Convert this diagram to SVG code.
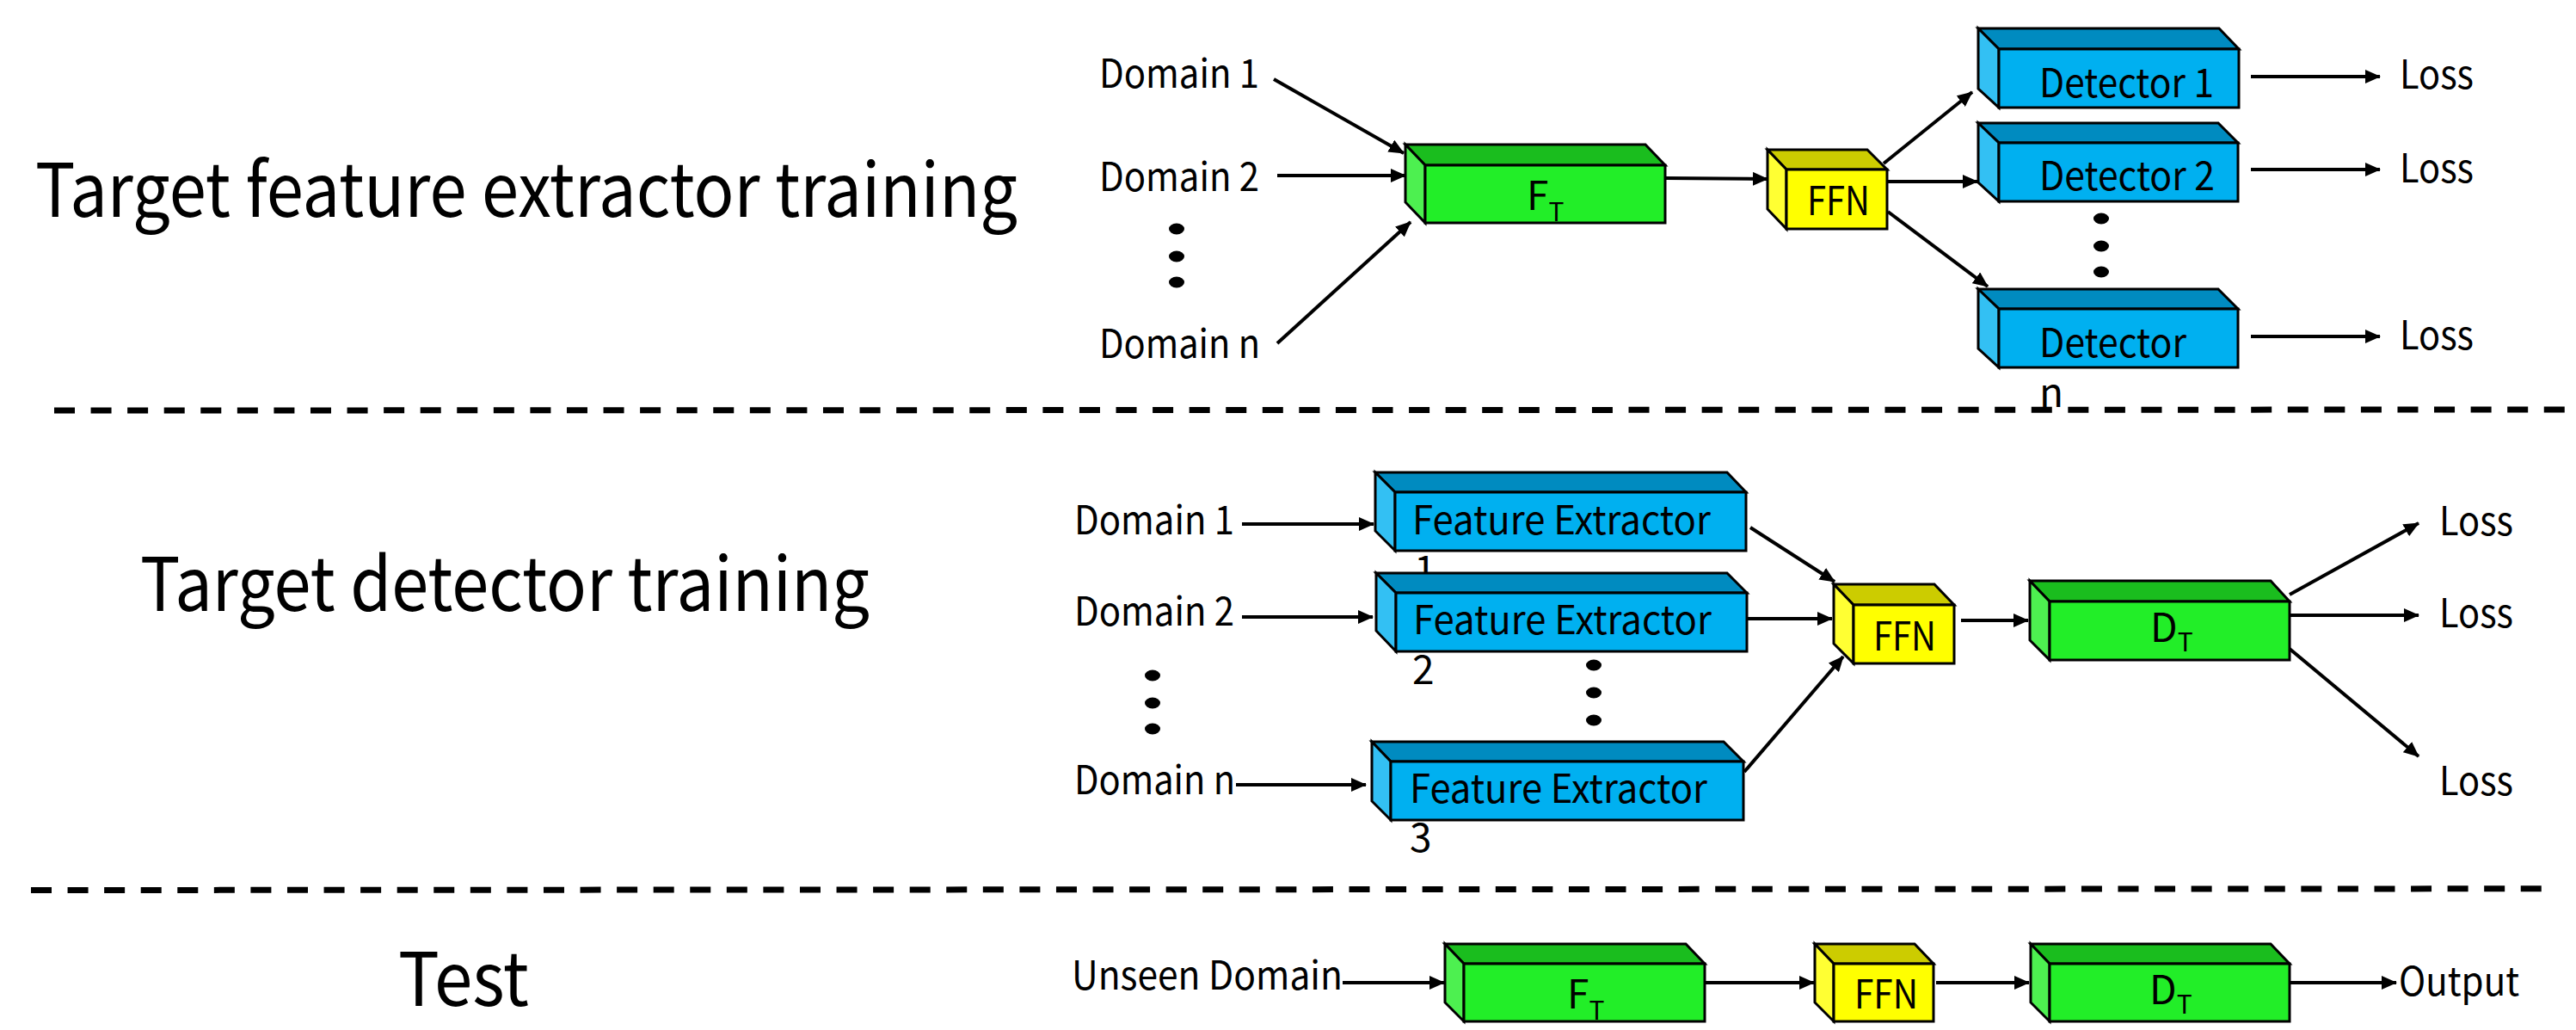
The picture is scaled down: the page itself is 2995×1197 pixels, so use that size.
<svg xmlns="http://www.w3.org/2000/svg" width="2995" height="1197" viewBox="0 0 2995 1197">
<defs>
<style>
text{font-family:"Noto Sans CJK SC","Source Sans Pro","Liberation Sans",sans-serif;fill:#000}
.title{font-size:86px}
.lbl{font-size:46px}
.sub{font-size:30px}
.box polygon,.box rect{stroke:#000;stroke-width:3;stroke-linejoin:miter}
.g .f{fill:#22EE28}.g .t{fill:#1ABD1E}.g .s{fill:#4DF050}
.b .f{fill:#00B0F0}.b .t{fill:#008BC0}.b .s{fill:#33C0F3}
.y .f{fill:#FFFF00}.y .t{fill:#CCCC00}.y .s{fill:#FFFF33}
.arr{stroke:#000;stroke-width:4;fill:none;marker-end:url(#ah)}
.dash{stroke:#000;stroke-width:7;stroke-dasharray:24 18.57;fill:none}
.dot{fill:#000}
</style>
<marker id="ah" markerUnits="userSpaceOnUse" markerWidth="18" markerHeight="16" refX="17" refY="8" orient="auto">
<path d="M0,0 L18,8 L0,16 z" fill="#000"/>
</marker>
</defs>

<g id="section-titles">
<text class="title" x="41" y="252" textLength="1142" lengthAdjust="spacingAndGlyphs">Target feature extractor training</text>
<text class="title" x="163" y="710" textLength="848" lengthAdjust="spacingAndGlyphs">Target detector training</text>
<text class="title" x="463" y="1169" textLength="152" lengthAdjust="spacingAndGlyphs">Test</text>
</g>

<g id="separators">
<line class="dash" x1="63" y1="477" x2="2983" y2="476"/>
<line class="dash" x1="36" y1="1034.5" x2="2955" y2="1032.8"/>
</g>

<!-- Section 1 -->
<g id="s1-inputs">
<text class="lbl" x="1278" y="102" textLength="186" lengthAdjust="spacingAndGlyphs">Domain 1</text>
<text class="lbl" x="1278" y="222" textLength="186" lengthAdjust="spacingAndGlyphs">Domain 2</text>
<text class="lbl" x="1278" y="416" textLength="187" lengthAdjust="spacingAndGlyphs">Domain n</text>
<ellipse class="dot" cx="1368" cy="266" rx="9" ry="6.5"/>
<ellipse class="dot" cx="1368" cy="298" rx="9" ry="6.5"/>
<ellipse class="dot" cx="1368" cy="328" rx="9" ry="6.5"/>
</g>

<g id="s1-ft" class="box g">
<polygon class="t" points="1634,168 1913,168 1936,192 1657,192"/>
<polygon class="s" points="1634,168 1657,192 1657,259 1634,235"/>
<rect class="f" x="1657" y="192" width="279" height="67"/>
<text class="lbl" x="1775" y="244">F<tspan class="sub" y="257">T</tspan></text>
</g>

<g id="s1-ffn" class="box y">
<polygon class="t" points="2055,174 2171,174 2194,197 2077,197"/>
<polygon class="s" points="2055,174 2077,197 2077,266 2055,243"/>
<rect class="f" x="2077" y="197" width="117" height="69"/>
<text class="lbl" x="2101" y="250" textLength="73" lengthAdjust="spacingAndGlyphs">FFN</text>
</g>

<g id="s1-det1" class="box b">
<polygon class="t" points="2300,33 2580,33 2603,57 2324,57"/>
<polygon class="s" points="2300,33 2324,57 2324,125 2300,103"/>
<rect class="f" x="2324" y="57" width="279" height="68"/>
<text class="lbl" x="2371" y="113" textLength="203" lengthAdjust="spacingAndGlyphs">Detector 1</text>
</g>

<g id="s1-det2" class="box b">
<polygon class="t" points="2300,143 2579,143 2602,166 2324,166"/>
<polygon class="s" points="2300,143 2324,166 2324,234 2300,212"/>
<rect class="f" x="2324" y="166" width="278" height="68"/>
<text class="lbl" x="2371" y="221" textLength="204" lengthAdjust="spacingAndGlyphs">Detector 2</text>
</g>

<g id="s1-dets-dots">
<ellipse class="dot" cx="2443" cy="254" rx="9" ry="6.5"/>
<ellipse class="dot" cx="2443" cy="286" rx="9" ry="6.5"/>
<ellipse class="dot" cx="2443" cy="316" rx="9" ry="6.5"/>
</g>

<g id="s1-detn" class="box b">
<polygon class="t" points="2300,336 2579,336 2602,359 2324,359"/>
<polygon class="s" points="2300,336 2324,359 2324,427 2300,405"/>
<rect class="f" x="2324" y="359" width="278" height="68"/>
<text class="lbl" x="2371" y="415" textLength="171" lengthAdjust="spacingAndGlyphs">Detector</text>
<text class="lbl" x="2371" y="473">n</text>
</g>

<g id="s1-losses">
<text class="lbl" x="2790" y="103" textLength="86" lengthAdjust="spacingAndGlyphs">Loss</text>
<text class="lbl" x="2790" y="212" textLength="86" lengthAdjust="spacingAndGlyphs">Loss</text>
<text class="lbl" x="2790" y="406" textLength="86" lengthAdjust="spacingAndGlyphs">Loss</text>
</g>

<!-- Section 2 -->
<g id="s2-inputs">
<text class="lbl" x="1249" y="621" textLength="186" lengthAdjust="spacingAndGlyphs">Domain 1</text>
<text class="lbl" x="1249" y="727" textLength="186" lengthAdjust="spacingAndGlyphs">Domain 2</text>
<text class="lbl" x="1249" y="923" textLength="187" lengthAdjust="spacingAndGlyphs">Domain n</text>
<ellipse class="dot" cx="1340" cy="785" rx="9" ry="6.5"/>
<ellipse class="dot" cx="1340" cy="817" rx="9" ry="6.5"/>
<ellipse class="dot" cx="1340" cy="847" rx="9" ry="6.5"/>
</g>

<g id="s2-fe1" class="box b">
<polygon class="t" points="1599,549 2008,549 2030,572 1622,572"/>
<polygon class="s" points="1599,549 1622,572 1622,640 1599,617"/>
<rect class="f" x="1622" y="572" width="408" height="68"/>
<text class="lbl" x="1642" y="621" textLength="347" lengthAdjust="spacingAndGlyphs">Feature Extractor</text>
<text class="lbl" x="1644" y="679">1</text>
</g>

<g id="s2-fe2" class="box b">
<polygon class="t" points="1600,666 2008,666 2031,689 1623,689"/>
<polygon class="s" points="1600,666 1623,689 1623,757 1600,733"/>
<rect class="f" x="1623" y="689" width="408" height="68"/>
<text class="lbl" x="1643" y="737" textLength="347" lengthAdjust="spacingAndGlyphs">Feature Extractor</text>
<text class="lbl" x="1642" y="795">2</text>
</g>

<g id="s2-fe-dots">
<ellipse class="dot" cx="1853" cy="773" rx="9" ry="6.5"/>
<ellipse class="dot" cx="1853" cy="805" rx="9" ry="6.5"/>
<ellipse class="dot" cx="1853" cy="837" rx="9" ry="6.5"/>
</g>

<g id="s2-fe3" class="box b">
<polygon class="t" points="1595,862 2004,862 2027,885 1617,885"/>
<polygon class="s" points="1595,862 1617,885 1617,953 1595,931"/>
<rect class="f" x="1617" y="885" width="410" height="68"/>
<text class="lbl" x="1639" y="933" textLength="346" lengthAdjust="spacingAndGlyphs">Feature Extractor</text>
<text class="lbl" x="1639" y="990">3</text>
</g>

<g id="s2-ffn" class="box y">
<polygon class="t" points="2132,679 2249,679 2272,703 2155,703"/>
<polygon class="s" points="2132,679 2155,703 2155,771 2132,748"/>
<rect class="f" x="2155" y="703" width="117" height="68"/>
<text class="lbl" x="2178" y="756" textLength="73" lengthAdjust="spacingAndGlyphs">FFN</text>
</g>

<g id="s2-dt" class="box g">
<polygon class="t" points="2360,675 2640,675 2662,699 2383,699"/>
<polygon class="s" points="2360,675 2383,699 2383,767 2360,744"/>
<rect class="f" x="2383" y="699" width="279" height="68"/>
<text class="lbl" x="2500" y="746">D<tspan class="sub" y="757">T</tspan></text>
</g>

<g id="s2-losses">
<text class="lbl" x="2836" y="622" textLength="86" lengthAdjust="spacingAndGlyphs">Loss</text>
<text class="lbl" x="2836" y="729" textLength="86" lengthAdjust="spacingAndGlyphs">Loss</text>
<text class="lbl" x="2836" y="924" textLength="86" lengthAdjust="spacingAndGlyphs">Loss</text>
</g>

<!-- Section 3 -->
<g id="s3-input">
<text class="lbl" x="1246" y="1150" textLength="315" lengthAdjust="spacingAndGlyphs">Unseen Domain</text>
</g>

<g id="s3-ft" class="box g">
<polygon class="t" points="1680,1097 1960,1097 1982,1120 1702,1120"/>
<polygon class="s" points="1680,1097 1702,1120 1702,1187 1680,1165"/>
<rect class="f" x="1702" y="1120" width="280" height="67"/>
<text class="lbl" x="1822" y="1172">F<tspan class="sub" y="1185">T</tspan></text>
</g>

<g id="s3-ffn" class="box y">
<polygon class="t" points="2110,1097 2226,1097 2248,1120 2132,1120"/>
<polygon class="s" points="2110,1097 2132,1120 2132,1187 2110,1165"/>
<rect class="f" x="2132" y="1120" width="116" height="67"/>
<text class="lbl" x="2156" y="1172" textLength="74" lengthAdjust="spacingAndGlyphs">FFN</text>
</g>

<g id="s3-dt" class="box g">
<polygon class="t" points="2361,1097 2640,1097 2662,1120 2383,1120"/>
<polygon class="s" points="2361,1097 2383,1120 2383,1187 2361,1165"/>
<rect class="f" x="2383" y="1120" width="279" height="67"/>
<text class="lbl" x="2499" y="1167">D<tspan class="sub" y="1178">T</tspan></text>
</g>

<g id="s3-output">
<text class="lbl" x="2789" y="1157" textLength="140" lengthAdjust="spacingAndGlyphs">Output</text>
</g>

<g id="connectors">
<line class="arr" x1="1481" y1="92" x2="1632" y2="178"/>
<line class="arr" x1="1485" y1="204" x2="1634" y2="204"/>
<line class="arr" x1="1485" y1="399" x2="1640" y2="258"/>
<line class="arr" x1="1936" y1="207" x2="2055" y2="208"/>
<line class="arr" x1="2190" y1="190" x2="2293" y2="107"/>
<line class="arr" x1="2195" y1="211" x2="2299" y2="211"/>
<line class="arr" x1="2195" y1="246" x2="2311" y2="333"/>
<line class="arr" x1="2617" y1="89" x2="2767" y2="89"/>
<line class="arr" x1="2617" y1="197" x2="2767" y2="197"/>
<line class="arr" x1="2617" y1="391" x2="2767" y2="391"/>

<line class="arr" x1="1444" y1="609" x2="1597" y2="609"/>
<line class="arr" x1="1444" y1="717" x2="1596" y2="717"/>
<line class="arr" x1="1437" y1="912" x2="1588" y2="912"/>
<line class="arr" x1="2035" y1="613" x2="2133" y2="676"/>
<line class="arr" x1="2031" y1="719" x2="2130" y2="719"/>
<line class="arr" x1="2028" y1="897" x2="2143" y2="763"/>
<line class="arr" x1="2280" y1="721" x2="2358" y2="721"/>
<line class="arr" x1="2662" y1="691" x2="2812" y2="608"/>
<line class="arr" x1="2662" y1="715" x2="2812" y2="715"/>
<line class="arr" x1="2662" y1="754" x2="2812" y2="879"/>

<line class="arr" x1="1561" y1="1142" x2="1679" y2="1142"/>
<line class="arr" x1="1982" y1="1142" x2="2109" y2="1142"/>
<line class="arr" x1="2251" y1="1142" x2="2359" y2="1142"/>
<line class="arr" x1="2662" y1="1142" x2="2786" y2="1142"/>
</g>
</svg>
